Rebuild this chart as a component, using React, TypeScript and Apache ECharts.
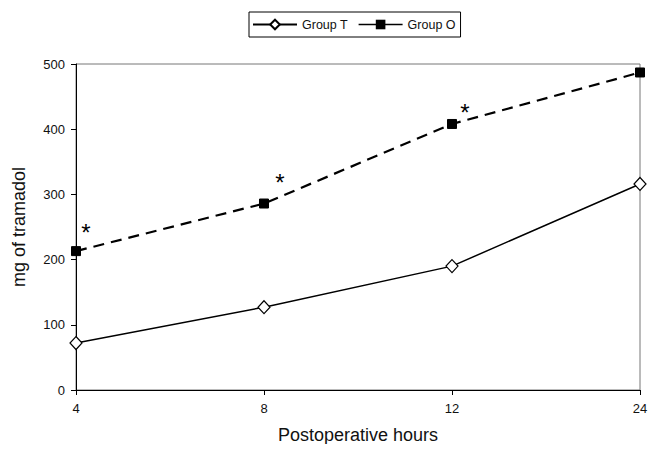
import React, { useEffect, useRef } from "react";
import * as echarts from "echarts";

const hours = ["4", "8", "12", "24"];
const groupT = [72, 127, 190, 316];
const groupO = [213, 286, 408, 487];
const significant = [true, true, true, false];
const yTicks = { min: 0, max: 500, interval: 100 };

const FONT = "'Liberation Sans', Arial, sans-serif";

export default function App() {
  const ref = useRef<HTMLDivElement>(null);
  useEffect(() => {
    if (!ref.current) return;
    const chart = echarts.init(ref.current, undefined, { renderer: "svg" });
    const starOffsets = [[10, -19], [16, -21], [13, -11], [0, 0]];
    chart.setOption({
      animation: false,
      backgroundColor: "#ffffff",
      textStyle: { fontFamily: FONT },
      grid: {
        left: 68,
        right: 10,
        top: 56,
        bottom: 54,
        show: true,
        borderColor: "#777",
        borderWidth: 1,
        outerBoundsMode: "none",
        containLabel: false,
      },
      legend: {
        left: 241,
        top: 4,
        padding: [6, 5, 6, 3],
        itemWidth: 44,
        itemHeight: 12,
        itemGap: 10,
        borderColor: "#000",
        borderWidth: 1,
        borderRadius: 0,
        textStyle: { fontSize: 12.5, color: "#111", fontFamily: FONT },
        data: [
          { name: "Group T", lineStyle: { type: "solid" } },
          { name: "Group O", lineStyle: { type: "solid", width: 1.5 } },
        ],
      },
      xAxis: {
        type: "category",
        data: hours,
        boundaryGap: false,
        name: "Postoperative hours",
        nameLocation: "middle",
        nameGap: 36,
        nameTextStyle: { fontSize: 18, color: "#111", fontFamily: FONT },
        axisLine: { lineStyle: { color: "#000", width: 1 } },
        axisTick: { show: true, length: 5, lineStyle: { color: "#000" } },
        axisLabel: { fontSize: 13, color: "#111", margin: 12, fontFamily: FONT },
        splitLine: { show: false },
      },
      yAxis: {
        type: "value",
        min: yTicks.min,
        max: yTicks.max,
        interval: yTicks.interval,
        name: "mg of tramadol",
        nameLocation: "middle",
        nameGap: 48,
        nameTextStyle: { fontSize: 18, color: "#111", fontFamily: FONT },
        axisLine: { show: true, lineStyle: { color: "#000", width: 1 } },
        axisTick: { show: true, length: 5, lineStyle: { color: "#000" } },
        axisLabel: { fontSize: 13, color: "#111", margin: 11, fontFamily: FONT },
        splitLine: { show: false },
      },
      series: [
        {
          name: "Group T",
          type: "line",
          data: groupT,
          symbol: "diamond",
          symbolSize: [12, 13],
          itemStyle: { color: "#fff", borderColor: "#000", borderWidth: 1.2 },
          lineStyle: { color: "#000", width: 1.5, type: "solid" },
          z: 3,
        },
        {
          name: "Group O",
          type: "line",
          data: groupO.map((v, i) => ({
            value: v,
            label: {
              show: significant[i],
              formatter: "*",
              position: "inside",
              offset: starOffsets[i],
              fontSize: 24,
              color: "#000",
              fontFamily: FONT,
            },
          })),
          symbol: "rect",
          symbolSize: 9,
          itemStyle: { color: "#000", borderColor: "#000" },
          lineStyle: { color: "#000", width: 2.2, type: [11, 7] },
          z: 4,
        },
      ],
    });
    return () => chart.dispose();
  }, []);
  return <div ref={ref} style={{ width: 642, height: 436 }} />;
}
